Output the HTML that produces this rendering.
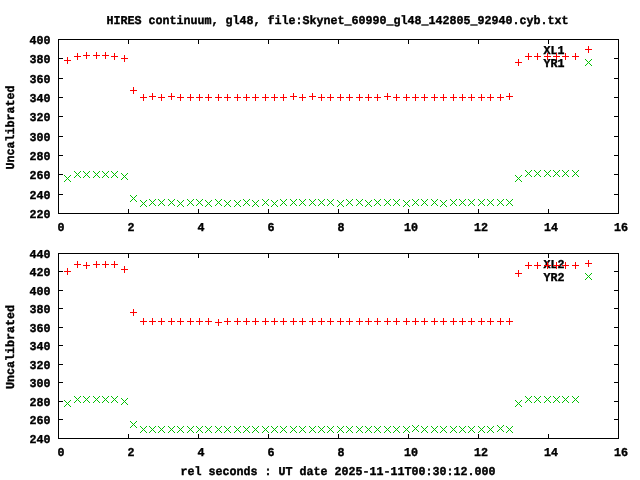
<!DOCTYPE html>
<html lang="en"><head><meta charset="utf-8"><title>HIRES continuum, gl48</title>
<style>
html,body{margin:0;padding:0;background:#fff;overflow:hidden}
svg{display:block;will-change:transform}
text{font-family:'Liberation Mono', 'DejaVu Sans Mono', monospace;font-size:12px;font-weight:bold;fill:#000;white-space:pre;stroke:#000;stroke-width:0.4px}
.e{text-anchor:end}.m{text-anchor:middle}
</style></head><body>
<svg width="640" height="480" viewBox="0 0 640 480" shape-rendering="crispEdges" text-rendering="geometricPrecision">
<rect x="0" y="0" width="640" height="480" fill="#ffffff"/>
<text class="m" x="337.5" y="24" textLength="462" lengthAdjust="spacingAndGlyphs">HIRES continuum, gl48, file:Skynet_60990_gl48_142805_92940.cyb.txt</text>
<text class="e" x="50.5" y="44" textLength="21" lengthAdjust="spacingAndGlyphs">400</text>
<text class="e" x="50.5" y="63" textLength="21" lengthAdjust="spacingAndGlyphs">380</text>
<text class="e" x="50.5" y="83" textLength="21" lengthAdjust="spacingAndGlyphs">360</text>
<text class="e" x="50.5" y="102" textLength="21" lengthAdjust="spacingAndGlyphs">340</text>
<text class="e" x="50.5" y="121" textLength="21" lengthAdjust="spacingAndGlyphs">320</text>
<text class="e" x="50.5" y="141" textLength="21" lengthAdjust="spacingAndGlyphs">300</text>
<text class="e" x="50.5" y="160" textLength="21" lengthAdjust="spacingAndGlyphs">280</text>
<text class="e" x="50.5" y="179" textLength="21" lengthAdjust="spacingAndGlyphs">260</text>
<text class="e" x="50.5" y="199" textLength="21" lengthAdjust="spacingAndGlyphs">240</text>
<text class="e" x="50.5" y="218" textLength="21" lengthAdjust="spacingAndGlyphs">220</text>
<text class="m" x="61" y="231" textLength="7" lengthAdjust="spacingAndGlyphs">0</text>
<text class="m" x="131" y="231" textLength="7" lengthAdjust="spacingAndGlyphs">2</text>
<text class="m" x="201" y="231" textLength="7" lengthAdjust="spacingAndGlyphs">4</text>
<text class="m" x="271" y="231" textLength="7" lengthAdjust="spacingAndGlyphs">6</text>
<text class="m" x="341" y="231" textLength="7" lengthAdjust="spacingAndGlyphs">8</text>
<text class="m" x="411" y="231" textLength="14" lengthAdjust="spacingAndGlyphs">10</text>
<text class="m" x="481" y="231" textLength="14" lengthAdjust="spacingAndGlyphs">12</text>
<text class="m" x="551" y="231" textLength="14" lengthAdjust="spacingAndGlyphs">14</text>
<text class="m" x="621" y="231" textLength="14" lengthAdjust="spacingAndGlyphs">16</text>
<path d="M58 39h561v1h-561zM58 213h561v1h-561zM58 39h1v175h-1zM618 39h1v175h-1zM58 39h5v1h-5zM614 39h5v1h-5zM58 58h5v1h-5zM614 58h5v1h-5zM58 78h5v1h-5zM614 78h5v1h-5zM58 97h5v1h-5zM614 97h5v1h-5zM58 116h5v1h-5zM614 116h5v1h-5zM58 136h5v1h-5zM614 136h5v1h-5zM58 155h5v1h-5zM614 155h5v1h-5zM58 174h5v1h-5zM614 174h5v1h-5zM58 194h5v1h-5zM614 194h5v1h-5zM58 213h5v1h-5zM614 213h5v1h-5zM58 209h1v5h-1zM58 39h1v5h-1zM128 209h1v5h-1zM128 39h1v5h-1zM198 209h1v5h-1zM198 39h1v5h-1zM268 209h1v5h-1zM268 39h1v5h-1zM338 209h1v5h-1zM338 39h1v5h-1zM408 209h1v5h-1zM408 39h1v5h-1zM478 209h1v5h-1zM478 39h1v5h-1zM548 209h1v5h-1zM548 39h1v5h-1zM618 209h1v5h-1zM618 39h1v5h-1z" fill="#000"/>
<text class="m" transform="translate(14 127.5) rotate(-90)" textLength="84" lengthAdjust="spacingAndGlyphs">Uncalibrated</text>
<text class="e" x="564.5" y="54" textLength="21" lengthAdjust="spacingAndGlyphs">XL1</text>
<path d="M64 60h7v1h-7zM67 57h1v7h-1zM74 56h7v1h-7zM77 53h1v7h-1zM83 55h7v1h-7zM86 52h1v7h-1zM93 55h7v1h-7zM96 52h1v7h-1zM102 55h7v1h-7zM105 52h1v7h-1zM111 56h7v1h-7zM114 53h1v7h-1zM121 58h7v1h-7zM124 55h1v7h-1zM130 90h7v1h-7zM133 87h1v7h-1zM140 97h7v1h-7zM143 94h1v7h-1zM149 96h7v1h-7zM152 93h1v7h-1zM158 97h7v1h-7zM161 94h1v7h-1zM168 96h7v1h-7zM171 93h1v7h-1zM177 97h7v1h-7zM180 94h1v7h-1zM187 97h7v1h-7zM190 94h1v7h-1zM196 97h7v1h-7zM199 94h1v7h-1zM205 97h7v1h-7zM208 94h1v7h-1zM215 97h7v1h-7zM218 94h1v7h-1zM224 97h7v1h-7zM227 94h1v7h-1zM234 97h7v1h-7zM237 94h1v7h-1zM243 97h7v1h-7zM246 94h1v7h-1zM252 97h7v1h-7zM255 94h1v7h-1zM262 97h7v1h-7zM265 94h1v7h-1zM271 97h7v1h-7zM274 94h1v7h-1zM280 97h7v1h-7zM283 94h1v7h-1zM290 96h7v1h-7zM293 93h1v7h-1zM299 97h7v1h-7zM302 94h1v7h-1zM309 96h7v1h-7zM312 93h1v7h-1zM318 97h7v1h-7zM321 94h1v7h-1zM327 97h7v1h-7zM330 94h1v7h-1zM337 97h7v1h-7zM340 94h1v7h-1zM346 97h7v1h-7zM349 94h1v7h-1zM356 97h7v1h-7zM359 94h1v7h-1zM365 97h7v1h-7zM368 94h1v7h-1zM374 97h7v1h-7zM377 94h1v7h-1zM384 96h7v1h-7zM387 93h1v7h-1zM393 97h7v1h-7zM396 94h1v7h-1zM403 97h7v1h-7zM406 94h1v7h-1zM412 97h7v1h-7zM415 94h1v7h-1zM421 97h7v1h-7zM424 94h1v7h-1zM431 97h7v1h-7zM434 94h1v7h-1zM440 97h7v1h-7zM443 94h1v7h-1zM450 97h7v1h-7zM453 94h1v7h-1zM459 97h7v1h-7zM462 94h1v7h-1zM468 97h7v1h-7zM471 94h1v7h-1zM478 97h7v1h-7zM481 94h1v7h-1zM487 97h7v1h-7zM490 94h1v7h-1zM497 97h7v1h-7zM500 94h1v7h-1zM506 96h7v1h-7zM509 93h1v7h-1zM515 62h7v1h-7zM518 59h1v7h-1zM525 56h7v1h-7zM528 53h1v7h-1zM534 56h7v1h-7zM537 53h1v7h-1zM544 56h7v1h-7zM547 53h1v7h-1zM553 56h7v1h-7zM556 53h1v7h-1zM562 56h7v1h-7zM565 53h1v7h-1zM572 56h7v1h-7zM575 53h1v7h-1zM585 49h7v1h-7zM588 46h1v7h-1z" fill="#ff0000"/>
<text class="e" x="564.5" y="67" textLength="21" lengthAdjust="spacingAndGlyphs">YR1</text>
<path d="M64 175h1v1h-1zM64 181h1v1h-1zM65 176h1v1h-1zM65 180h1v1h-1zM66 177h1v1h-1zM66 179h1v1h-1zM67 178h1v1h-1zM68 179h1v1h-1zM68 177h1v1h-1zM69 180h1v1h-1zM69 176h1v1h-1zM70 181h1v1h-1zM70 175h1v1h-1zM74 171h1v1h-1zM74 177h1v1h-1zM75 172h1v1h-1zM75 176h1v1h-1zM76 173h1v1h-1zM76 175h1v1h-1zM77 174h1v1h-1zM78 175h1v1h-1zM78 173h1v1h-1zM79 176h1v1h-1zM79 172h1v1h-1zM80 177h1v1h-1zM80 171h1v1h-1zM83 171h1v1h-1zM83 177h1v1h-1zM84 172h1v1h-1zM84 176h1v1h-1zM85 173h1v1h-1zM85 175h1v1h-1zM86 174h1v1h-1zM87 175h1v1h-1zM87 173h1v1h-1zM88 176h1v1h-1zM88 172h1v1h-1zM89 177h1v1h-1zM89 171h1v1h-1zM93 171h1v1h-1zM93 177h1v1h-1zM94 172h1v1h-1zM94 176h1v1h-1zM95 173h1v1h-1zM95 175h1v1h-1zM96 174h1v1h-1zM97 175h1v1h-1zM97 173h1v1h-1zM98 176h1v1h-1zM98 172h1v1h-1zM99 177h1v1h-1zM99 171h1v1h-1zM102 171h1v1h-1zM102 177h1v1h-1zM103 172h1v1h-1zM103 176h1v1h-1zM104 173h1v1h-1zM104 175h1v1h-1zM105 174h1v1h-1zM106 175h1v1h-1zM106 173h1v1h-1zM107 176h1v1h-1zM107 172h1v1h-1zM108 177h1v1h-1zM108 171h1v1h-1zM111 171h1v1h-1zM111 177h1v1h-1zM112 172h1v1h-1zM112 176h1v1h-1zM113 173h1v1h-1zM113 175h1v1h-1zM114 174h1v1h-1zM115 175h1v1h-1zM115 173h1v1h-1zM116 176h1v1h-1zM116 172h1v1h-1zM117 177h1v1h-1zM117 171h1v1h-1zM121 173h1v1h-1zM121 179h1v1h-1zM122 174h1v1h-1zM122 178h1v1h-1zM123 175h1v1h-1zM123 177h1v1h-1zM124 176h1v1h-1zM125 177h1v1h-1zM125 175h1v1h-1zM126 178h1v1h-1zM126 174h1v1h-1zM127 179h1v1h-1zM127 173h1v1h-1zM130 195h1v1h-1zM130 201h1v1h-1zM131 196h1v1h-1zM131 200h1v1h-1zM132 197h1v1h-1zM132 199h1v1h-1zM133 198h1v1h-1zM134 199h1v1h-1zM134 197h1v1h-1zM135 200h1v1h-1zM135 196h1v1h-1zM136 201h1v1h-1zM136 195h1v1h-1zM140 200h1v1h-1zM140 206h1v1h-1zM141 201h1v1h-1zM141 205h1v1h-1zM142 202h1v1h-1zM142 204h1v1h-1zM143 203h1v1h-1zM144 204h1v1h-1zM144 202h1v1h-1zM145 205h1v1h-1zM145 201h1v1h-1zM146 206h1v1h-1zM146 200h1v1h-1zM149 199h1v1h-1zM149 205h1v1h-1zM150 200h1v1h-1zM150 204h1v1h-1zM151 201h1v1h-1zM151 203h1v1h-1zM152 202h1v1h-1zM153 203h1v1h-1zM153 201h1v1h-1zM154 204h1v1h-1zM154 200h1v1h-1zM155 205h1v1h-1zM155 199h1v1h-1zM158 199h1v1h-1zM158 205h1v1h-1zM159 200h1v1h-1zM159 204h1v1h-1zM160 201h1v1h-1zM160 203h1v1h-1zM161 202h1v1h-1zM162 203h1v1h-1zM162 201h1v1h-1zM163 204h1v1h-1zM163 200h1v1h-1zM164 205h1v1h-1zM164 199h1v1h-1zM168 199h1v1h-1zM168 205h1v1h-1zM169 200h1v1h-1zM169 204h1v1h-1zM170 201h1v1h-1zM170 203h1v1h-1zM171 202h1v1h-1zM172 203h1v1h-1zM172 201h1v1h-1zM173 204h1v1h-1zM173 200h1v1h-1zM174 205h1v1h-1zM174 199h1v1h-1zM177 200h1v1h-1zM177 206h1v1h-1zM178 201h1v1h-1zM178 205h1v1h-1zM179 202h1v1h-1zM179 204h1v1h-1zM180 203h1v1h-1zM181 204h1v1h-1zM181 202h1v1h-1zM182 205h1v1h-1zM182 201h1v1h-1zM183 206h1v1h-1zM183 200h1v1h-1zM187 199h1v1h-1zM187 205h1v1h-1zM188 200h1v1h-1zM188 204h1v1h-1zM189 201h1v1h-1zM189 203h1v1h-1zM190 202h1v1h-1zM191 203h1v1h-1zM191 201h1v1h-1zM192 204h1v1h-1zM192 200h1v1h-1zM193 205h1v1h-1zM193 199h1v1h-1zM196 199h1v1h-1zM196 205h1v1h-1zM197 200h1v1h-1zM197 204h1v1h-1zM198 201h1v1h-1zM198 203h1v1h-1zM199 202h1v1h-1zM200 203h1v1h-1zM200 201h1v1h-1zM201 204h1v1h-1zM201 200h1v1h-1zM202 205h1v1h-1zM202 199h1v1h-1zM205 200h1v1h-1zM205 206h1v1h-1zM206 201h1v1h-1zM206 205h1v1h-1zM207 202h1v1h-1zM207 204h1v1h-1zM208 203h1v1h-1zM209 204h1v1h-1zM209 202h1v1h-1zM210 205h1v1h-1zM210 201h1v1h-1zM211 206h1v1h-1zM211 200h1v1h-1zM215 199h1v1h-1zM215 205h1v1h-1zM216 200h1v1h-1zM216 204h1v1h-1zM217 201h1v1h-1zM217 203h1v1h-1zM218 202h1v1h-1zM219 203h1v1h-1zM219 201h1v1h-1zM220 204h1v1h-1zM220 200h1v1h-1zM221 205h1v1h-1zM221 199h1v1h-1zM224 200h1v1h-1zM224 206h1v1h-1zM225 201h1v1h-1zM225 205h1v1h-1zM226 202h1v1h-1zM226 204h1v1h-1zM227 203h1v1h-1zM228 204h1v1h-1zM228 202h1v1h-1zM229 205h1v1h-1zM229 201h1v1h-1zM230 206h1v1h-1zM230 200h1v1h-1zM234 200h1v1h-1zM234 206h1v1h-1zM235 201h1v1h-1zM235 205h1v1h-1zM236 202h1v1h-1zM236 204h1v1h-1zM237 203h1v1h-1zM238 204h1v1h-1zM238 202h1v1h-1zM239 205h1v1h-1zM239 201h1v1h-1zM240 206h1v1h-1zM240 200h1v1h-1zM243 199h1v1h-1zM243 205h1v1h-1zM244 200h1v1h-1zM244 204h1v1h-1zM245 201h1v1h-1zM245 203h1v1h-1zM246 202h1v1h-1zM247 203h1v1h-1zM247 201h1v1h-1zM248 204h1v1h-1zM248 200h1v1h-1zM249 205h1v1h-1zM249 199h1v1h-1zM252 200h1v1h-1zM252 206h1v1h-1zM253 201h1v1h-1zM253 205h1v1h-1zM254 202h1v1h-1zM254 204h1v1h-1zM255 203h1v1h-1zM256 204h1v1h-1zM256 202h1v1h-1zM257 205h1v1h-1zM257 201h1v1h-1zM258 206h1v1h-1zM258 200h1v1h-1zM262 199h1v1h-1zM262 205h1v1h-1zM263 200h1v1h-1zM263 204h1v1h-1zM264 201h1v1h-1zM264 203h1v1h-1zM265 202h1v1h-1zM266 203h1v1h-1zM266 201h1v1h-1zM267 204h1v1h-1zM267 200h1v1h-1zM268 205h1v1h-1zM268 199h1v1h-1zM271 200h1v1h-1zM271 206h1v1h-1zM272 201h1v1h-1zM272 205h1v1h-1zM273 202h1v1h-1zM273 204h1v1h-1zM274 203h1v1h-1zM275 204h1v1h-1zM275 202h1v1h-1zM276 205h1v1h-1zM276 201h1v1h-1zM277 206h1v1h-1zM277 200h1v1h-1zM280 199h1v1h-1zM280 205h1v1h-1zM281 200h1v1h-1zM281 204h1v1h-1zM282 201h1v1h-1zM282 203h1v1h-1zM283 202h1v1h-1zM284 203h1v1h-1zM284 201h1v1h-1zM285 204h1v1h-1zM285 200h1v1h-1zM286 205h1v1h-1zM286 199h1v1h-1zM290 199h1v1h-1zM290 205h1v1h-1zM291 200h1v1h-1zM291 204h1v1h-1zM292 201h1v1h-1zM292 203h1v1h-1zM293 202h1v1h-1zM294 203h1v1h-1zM294 201h1v1h-1zM295 204h1v1h-1zM295 200h1v1h-1zM296 205h1v1h-1zM296 199h1v1h-1zM299 199h1v1h-1zM299 205h1v1h-1zM300 200h1v1h-1zM300 204h1v1h-1zM301 201h1v1h-1zM301 203h1v1h-1zM302 202h1v1h-1zM303 203h1v1h-1zM303 201h1v1h-1zM304 204h1v1h-1zM304 200h1v1h-1zM305 205h1v1h-1zM305 199h1v1h-1zM309 199h1v1h-1zM309 205h1v1h-1zM310 200h1v1h-1zM310 204h1v1h-1zM311 201h1v1h-1zM311 203h1v1h-1zM312 202h1v1h-1zM313 203h1v1h-1zM313 201h1v1h-1zM314 204h1v1h-1zM314 200h1v1h-1zM315 205h1v1h-1zM315 199h1v1h-1zM318 199h1v1h-1zM318 205h1v1h-1zM319 200h1v1h-1zM319 204h1v1h-1zM320 201h1v1h-1zM320 203h1v1h-1zM321 202h1v1h-1zM322 203h1v1h-1zM322 201h1v1h-1zM323 204h1v1h-1zM323 200h1v1h-1zM324 205h1v1h-1zM324 199h1v1h-1zM327 199h1v1h-1zM327 205h1v1h-1zM328 200h1v1h-1zM328 204h1v1h-1zM329 201h1v1h-1zM329 203h1v1h-1zM330 202h1v1h-1zM331 203h1v1h-1zM331 201h1v1h-1zM332 204h1v1h-1zM332 200h1v1h-1zM333 205h1v1h-1zM333 199h1v1h-1zM337 200h1v1h-1zM337 206h1v1h-1zM338 201h1v1h-1zM338 205h1v1h-1zM339 202h1v1h-1zM339 204h1v1h-1zM340 203h1v1h-1zM341 204h1v1h-1zM341 202h1v1h-1zM342 205h1v1h-1zM342 201h1v1h-1zM343 206h1v1h-1zM343 200h1v1h-1zM346 199h1v1h-1zM346 205h1v1h-1zM347 200h1v1h-1zM347 204h1v1h-1zM348 201h1v1h-1zM348 203h1v1h-1zM349 202h1v1h-1zM350 203h1v1h-1zM350 201h1v1h-1zM351 204h1v1h-1zM351 200h1v1h-1zM352 205h1v1h-1zM352 199h1v1h-1zM356 199h1v1h-1zM356 205h1v1h-1zM357 200h1v1h-1zM357 204h1v1h-1zM358 201h1v1h-1zM358 203h1v1h-1zM359 202h1v1h-1zM360 203h1v1h-1zM360 201h1v1h-1zM361 204h1v1h-1zM361 200h1v1h-1zM362 205h1v1h-1zM362 199h1v1h-1zM365 200h1v1h-1zM365 206h1v1h-1zM366 201h1v1h-1zM366 205h1v1h-1zM367 202h1v1h-1zM367 204h1v1h-1zM368 203h1v1h-1zM369 204h1v1h-1zM369 202h1v1h-1zM370 205h1v1h-1zM370 201h1v1h-1zM371 206h1v1h-1zM371 200h1v1h-1zM374 199h1v1h-1zM374 205h1v1h-1zM375 200h1v1h-1zM375 204h1v1h-1zM376 201h1v1h-1zM376 203h1v1h-1zM377 202h1v1h-1zM378 203h1v1h-1zM378 201h1v1h-1zM379 204h1v1h-1zM379 200h1v1h-1zM380 205h1v1h-1zM380 199h1v1h-1zM384 199h1v1h-1zM384 205h1v1h-1zM385 200h1v1h-1zM385 204h1v1h-1zM386 201h1v1h-1zM386 203h1v1h-1zM387 202h1v1h-1zM388 203h1v1h-1zM388 201h1v1h-1zM389 204h1v1h-1zM389 200h1v1h-1zM390 205h1v1h-1zM390 199h1v1h-1zM393 199h1v1h-1zM393 205h1v1h-1zM394 200h1v1h-1zM394 204h1v1h-1zM395 201h1v1h-1zM395 203h1v1h-1zM396 202h1v1h-1zM397 203h1v1h-1zM397 201h1v1h-1zM398 204h1v1h-1zM398 200h1v1h-1zM399 205h1v1h-1zM399 199h1v1h-1zM403 200h1v1h-1zM403 206h1v1h-1zM404 201h1v1h-1zM404 205h1v1h-1zM405 202h1v1h-1zM405 204h1v1h-1zM406 203h1v1h-1zM407 204h1v1h-1zM407 202h1v1h-1zM408 205h1v1h-1zM408 201h1v1h-1zM409 206h1v1h-1zM409 200h1v1h-1zM412 199h1v1h-1zM412 205h1v1h-1zM413 200h1v1h-1zM413 204h1v1h-1zM414 201h1v1h-1zM414 203h1v1h-1zM415 202h1v1h-1zM416 203h1v1h-1zM416 201h1v1h-1zM417 204h1v1h-1zM417 200h1v1h-1zM418 205h1v1h-1zM418 199h1v1h-1zM421 199h1v1h-1zM421 205h1v1h-1zM422 200h1v1h-1zM422 204h1v1h-1zM423 201h1v1h-1zM423 203h1v1h-1zM424 202h1v1h-1zM425 203h1v1h-1zM425 201h1v1h-1zM426 204h1v1h-1zM426 200h1v1h-1zM427 205h1v1h-1zM427 199h1v1h-1zM431 199h1v1h-1zM431 205h1v1h-1zM432 200h1v1h-1zM432 204h1v1h-1zM433 201h1v1h-1zM433 203h1v1h-1zM434 202h1v1h-1zM435 203h1v1h-1zM435 201h1v1h-1zM436 204h1v1h-1zM436 200h1v1h-1zM437 205h1v1h-1zM437 199h1v1h-1zM440 200h1v1h-1zM440 206h1v1h-1zM441 201h1v1h-1zM441 205h1v1h-1zM442 202h1v1h-1zM442 204h1v1h-1zM443 203h1v1h-1zM444 204h1v1h-1zM444 202h1v1h-1zM445 205h1v1h-1zM445 201h1v1h-1zM446 206h1v1h-1zM446 200h1v1h-1zM450 199h1v1h-1zM450 205h1v1h-1zM451 200h1v1h-1zM451 204h1v1h-1zM452 201h1v1h-1zM452 203h1v1h-1zM453 202h1v1h-1zM454 203h1v1h-1zM454 201h1v1h-1zM455 204h1v1h-1zM455 200h1v1h-1zM456 205h1v1h-1zM456 199h1v1h-1zM459 199h1v1h-1zM459 205h1v1h-1zM460 200h1v1h-1zM460 204h1v1h-1zM461 201h1v1h-1zM461 203h1v1h-1zM462 202h1v1h-1zM463 203h1v1h-1zM463 201h1v1h-1zM464 204h1v1h-1zM464 200h1v1h-1zM465 205h1v1h-1zM465 199h1v1h-1zM468 199h1v1h-1zM468 205h1v1h-1zM469 200h1v1h-1zM469 204h1v1h-1zM470 201h1v1h-1zM470 203h1v1h-1zM471 202h1v1h-1zM472 203h1v1h-1zM472 201h1v1h-1zM473 204h1v1h-1zM473 200h1v1h-1zM474 205h1v1h-1zM474 199h1v1h-1zM478 199h1v1h-1zM478 205h1v1h-1zM479 200h1v1h-1zM479 204h1v1h-1zM480 201h1v1h-1zM480 203h1v1h-1zM481 202h1v1h-1zM482 203h1v1h-1zM482 201h1v1h-1zM483 204h1v1h-1zM483 200h1v1h-1zM484 205h1v1h-1zM484 199h1v1h-1zM487 199h1v1h-1zM487 205h1v1h-1zM488 200h1v1h-1zM488 204h1v1h-1zM489 201h1v1h-1zM489 203h1v1h-1zM490 202h1v1h-1zM491 203h1v1h-1zM491 201h1v1h-1zM492 204h1v1h-1zM492 200h1v1h-1zM493 205h1v1h-1zM493 199h1v1h-1zM497 199h1v1h-1zM497 205h1v1h-1zM498 200h1v1h-1zM498 204h1v1h-1zM499 201h1v1h-1zM499 203h1v1h-1zM500 202h1v1h-1zM501 203h1v1h-1zM501 201h1v1h-1zM502 204h1v1h-1zM502 200h1v1h-1zM503 205h1v1h-1zM503 199h1v1h-1zM506 199h1v1h-1zM506 205h1v1h-1zM507 200h1v1h-1zM507 204h1v1h-1zM508 201h1v1h-1zM508 203h1v1h-1zM509 202h1v1h-1zM510 203h1v1h-1zM510 201h1v1h-1zM511 204h1v1h-1zM511 200h1v1h-1zM512 205h1v1h-1zM512 199h1v1h-1zM515 175h1v1h-1zM515 181h1v1h-1zM516 176h1v1h-1zM516 180h1v1h-1zM517 177h1v1h-1zM517 179h1v1h-1zM518 178h1v1h-1zM519 179h1v1h-1zM519 177h1v1h-1zM520 180h1v1h-1zM520 176h1v1h-1zM521 181h1v1h-1zM521 175h1v1h-1zM525 170h1v1h-1zM525 176h1v1h-1zM526 171h1v1h-1zM526 175h1v1h-1zM527 172h1v1h-1zM527 174h1v1h-1zM528 173h1v1h-1zM529 174h1v1h-1zM529 172h1v1h-1zM530 175h1v1h-1zM530 171h1v1h-1zM531 176h1v1h-1zM531 170h1v1h-1zM534 170h1v1h-1zM534 176h1v1h-1zM535 171h1v1h-1zM535 175h1v1h-1zM536 172h1v1h-1zM536 174h1v1h-1zM537 173h1v1h-1zM538 174h1v1h-1zM538 172h1v1h-1zM539 175h1v1h-1zM539 171h1v1h-1zM540 176h1v1h-1zM540 170h1v1h-1zM544 170h1v1h-1zM544 176h1v1h-1zM545 171h1v1h-1zM545 175h1v1h-1zM546 172h1v1h-1zM546 174h1v1h-1zM547 173h1v1h-1zM548 174h1v1h-1zM548 172h1v1h-1zM549 175h1v1h-1zM549 171h1v1h-1zM550 176h1v1h-1zM550 170h1v1h-1zM553 170h1v1h-1zM553 176h1v1h-1zM554 171h1v1h-1zM554 175h1v1h-1zM555 172h1v1h-1zM555 174h1v1h-1zM556 173h1v1h-1zM557 174h1v1h-1zM557 172h1v1h-1zM558 175h1v1h-1zM558 171h1v1h-1zM559 176h1v1h-1zM559 170h1v1h-1zM562 170h1v1h-1zM562 176h1v1h-1zM563 171h1v1h-1zM563 175h1v1h-1zM564 172h1v1h-1zM564 174h1v1h-1zM565 173h1v1h-1zM566 174h1v1h-1zM566 172h1v1h-1zM567 175h1v1h-1zM567 171h1v1h-1zM568 176h1v1h-1zM568 170h1v1h-1zM572 170h1v1h-1zM572 176h1v1h-1zM573 171h1v1h-1zM573 175h1v1h-1zM574 172h1v1h-1zM574 174h1v1h-1zM575 173h1v1h-1zM576 174h1v1h-1zM576 172h1v1h-1zM577 175h1v1h-1zM577 171h1v1h-1zM578 176h1v1h-1zM578 170h1v1h-1zM585 59h1v1h-1zM585 65h1v1h-1zM586 60h1v1h-1zM586 64h1v1h-1zM587 61h1v1h-1zM587 63h1v1h-1zM588 62h1v1h-1zM589 63h1v1h-1zM589 61h1v1h-1zM590 64h1v1h-1zM590 60h1v1h-1zM591 65h1v1h-1zM591 59h1v1h-1z" fill="#00c000"/>
<text class="e" x="50.5" y="258" textLength="21" lengthAdjust="spacingAndGlyphs">440</text>
<text class="e" x="50.5" y="276" textLength="21" lengthAdjust="spacingAndGlyphs">420</text>
<text class="e" x="50.5" y="295" textLength="21" lengthAdjust="spacingAndGlyphs">400</text>
<text class="e" x="50.5" y="313" textLength="21" lengthAdjust="spacingAndGlyphs">380</text>
<text class="e" x="50.5" y="332" textLength="21" lengthAdjust="spacingAndGlyphs">360</text>
<text class="e" x="50.5" y="350" textLength="21" lengthAdjust="spacingAndGlyphs">340</text>
<text class="e" x="50.5" y="369" textLength="21" lengthAdjust="spacingAndGlyphs">320</text>
<text class="e" x="50.5" y="387" textLength="21" lengthAdjust="spacingAndGlyphs">300</text>
<text class="e" x="50.5" y="406" textLength="21" lengthAdjust="spacingAndGlyphs">280</text>
<text class="e" x="50.5" y="424" textLength="21" lengthAdjust="spacingAndGlyphs">260</text>
<text class="e" x="50.5" y="443" textLength="21" lengthAdjust="spacingAndGlyphs">240</text>
<text class="m" x="61" y="456" textLength="7" lengthAdjust="spacingAndGlyphs">0</text>
<text class="m" x="131" y="456" textLength="7" lengthAdjust="spacingAndGlyphs">2</text>
<text class="m" x="201" y="456" textLength="7" lengthAdjust="spacingAndGlyphs">4</text>
<text class="m" x="271" y="456" textLength="7" lengthAdjust="spacingAndGlyphs">6</text>
<text class="m" x="341" y="456" textLength="7" lengthAdjust="spacingAndGlyphs">8</text>
<text class="m" x="411" y="456" textLength="14" lengthAdjust="spacingAndGlyphs">10</text>
<text class="m" x="481" y="456" textLength="14" lengthAdjust="spacingAndGlyphs">12</text>
<text class="m" x="551" y="456" textLength="14" lengthAdjust="spacingAndGlyphs">14</text>
<text class="m" x="621" y="456" textLength="14" lengthAdjust="spacingAndGlyphs">16</text>
<path d="M58 253h561v1h-561zM58 438h561v1h-561zM58 253h1v186h-1zM618 253h1v186h-1zM58 253h5v1h-5zM614 253h5v1h-5zM58 271h5v1h-5zM614 271h5v1h-5zM58 290h5v1h-5zM614 290h5v1h-5zM58 308h5v1h-5zM614 308h5v1h-5zM58 327h5v1h-5zM614 327h5v1h-5zM58 345h5v1h-5zM614 345h5v1h-5zM58 364h5v1h-5zM614 364h5v1h-5zM58 382h5v1h-5zM614 382h5v1h-5zM58 401h5v1h-5zM614 401h5v1h-5zM58 419h5v1h-5zM614 419h5v1h-5zM58 438h5v1h-5zM614 438h5v1h-5zM58 434h1v5h-1zM58 253h1v5h-1zM128 434h1v5h-1zM128 253h1v5h-1zM198 434h1v5h-1zM198 253h1v5h-1zM268 434h1v5h-1zM268 253h1v5h-1zM338 434h1v5h-1zM338 253h1v5h-1zM408 434h1v5h-1zM408 253h1v5h-1zM478 434h1v5h-1zM478 253h1v5h-1zM548 434h1v5h-1zM548 253h1v5h-1zM618 434h1v5h-1zM618 253h1v5h-1z" fill="#000"/>
<text class="m" transform="translate(14 347) rotate(-90)" textLength="84" lengthAdjust="spacingAndGlyphs">Uncalibrated</text>
<text class="e" x="564.5" y="268" textLength="21" lengthAdjust="spacingAndGlyphs">XL2</text>
<path d="M64 271h7v1h-7zM67 268h1v7h-1zM74 264h7v1h-7zM77 261h1v7h-1zM83 265h7v1h-7zM86 262h1v7h-1zM93 264h7v1h-7zM96 261h1v7h-1zM102 264h7v1h-7zM105 261h1v7h-1zM111 264h7v1h-7zM114 261h1v7h-1zM121 269h7v1h-7zM124 266h1v7h-1zM130 312h7v1h-7zM133 309h1v7h-1zM140 321h7v1h-7zM143 318h1v7h-1zM149 321h7v1h-7zM152 318h1v7h-1zM158 321h7v1h-7zM161 318h1v7h-1zM168 321h7v1h-7zM171 318h1v7h-1zM177 321h7v1h-7zM180 318h1v7h-1zM187 321h7v1h-7zM190 318h1v7h-1zM196 321h7v1h-7zM199 318h1v7h-1zM205 321h7v1h-7zM208 318h1v7h-1zM215 322h7v1h-7zM218 319h1v7h-1zM224 321h7v1h-7zM227 318h1v7h-1zM234 321h7v1h-7zM237 318h1v7h-1zM243 321h7v1h-7zM246 318h1v7h-1zM252 321h7v1h-7zM255 318h1v7h-1zM262 321h7v1h-7zM265 318h1v7h-1zM271 321h7v1h-7zM274 318h1v7h-1zM280 321h7v1h-7zM283 318h1v7h-1zM290 321h7v1h-7zM293 318h1v7h-1zM299 321h7v1h-7zM302 318h1v7h-1zM309 321h7v1h-7zM312 318h1v7h-1zM318 321h7v1h-7zM321 318h1v7h-1zM327 321h7v1h-7zM330 318h1v7h-1zM337 321h7v1h-7zM340 318h1v7h-1zM346 321h7v1h-7zM349 318h1v7h-1zM356 321h7v1h-7zM359 318h1v7h-1zM365 321h7v1h-7zM368 318h1v7h-1zM374 321h7v1h-7zM377 318h1v7h-1zM384 321h7v1h-7zM387 318h1v7h-1zM393 321h7v1h-7zM396 318h1v7h-1zM403 321h7v1h-7zM406 318h1v7h-1zM412 321h7v1h-7zM415 318h1v7h-1zM421 321h7v1h-7zM424 318h1v7h-1zM431 321h7v1h-7zM434 318h1v7h-1zM440 321h7v1h-7zM443 318h1v7h-1zM450 321h7v1h-7zM453 318h1v7h-1zM459 321h7v1h-7zM462 318h1v7h-1zM468 321h7v1h-7zM471 318h1v7h-1zM478 321h7v1h-7zM481 318h1v7h-1zM487 321h7v1h-7zM490 318h1v7h-1zM497 321h7v1h-7zM500 318h1v7h-1zM506 321h7v1h-7zM509 318h1v7h-1zM515 273h7v1h-7zM518 270h1v7h-1zM525 265h7v1h-7zM528 262h1v7h-1zM534 265h7v1h-7zM537 262h1v7h-1zM544 265h7v1h-7zM547 262h1v7h-1zM553 265h7v1h-7zM556 262h1v7h-1zM562 265h7v1h-7zM565 262h1v7h-1zM572 265h7v1h-7zM575 262h1v7h-1zM585 263h7v1h-7zM588 260h1v7h-1z" fill="#ff0000"/>
<text class="e" x="564.5" y="281" textLength="21" lengthAdjust="spacingAndGlyphs">YR2</text>
<path d="M64 400h1v1h-1zM64 406h1v1h-1zM65 401h1v1h-1zM65 405h1v1h-1zM66 402h1v1h-1zM66 404h1v1h-1zM67 403h1v1h-1zM68 404h1v1h-1zM68 402h1v1h-1zM69 405h1v1h-1zM69 401h1v1h-1zM70 406h1v1h-1zM70 400h1v1h-1zM74 396h1v1h-1zM74 402h1v1h-1zM75 397h1v1h-1zM75 401h1v1h-1zM76 398h1v1h-1zM76 400h1v1h-1zM77 399h1v1h-1zM78 400h1v1h-1zM78 398h1v1h-1zM79 401h1v1h-1zM79 397h1v1h-1zM80 402h1v1h-1zM80 396h1v1h-1zM83 396h1v1h-1zM83 402h1v1h-1zM84 397h1v1h-1zM84 401h1v1h-1zM85 398h1v1h-1zM85 400h1v1h-1zM86 399h1v1h-1zM87 400h1v1h-1zM87 398h1v1h-1zM88 401h1v1h-1zM88 397h1v1h-1zM89 402h1v1h-1zM89 396h1v1h-1zM93 396h1v1h-1zM93 402h1v1h-1zM94 397h1v1h-1zM94 401h1v1h-1zM95 398h1v1h-1zM95 400h1v1h-1zM96 399h1v1h-1zM97 400h1v1h-1zM97 398h1v1h-1zM98 401h1v1h-1zM98 397h1v1h-1zM99 402h1v1h-1zM99 396h1v1h-1zM102 396h1v1h-1zM102 402h1v1h-1zM103 397h1v1h-1zM103 401h1v1h-1zM104 398h1v1h-1zM104 400h1v1h-1zM105 399h1v1h-1zM106 400h1v1h-1zM106 398h1v1h-1zM107 401h1v1h-1zM107 397h1v1h-1zM108 402h1v1h-1zM108 396h1v1h-1zM111 396h1v1h-1zM111 402h1v1h-1zM112 397h1v1h-1zM112 401h1v1h-1zM113 398h1v1h-1zM113 400h1v1h-1zM114 399h1v1h-1zM115 400h1v1h-1zM115 398h1v1h-1zM116 401h1v1h-1zM116 397h1v1h-1zM117 402h1v1h-1zM117 396h1v1h-1zM121 398h1v1h-1zM121 404h1v1h-1zM122 399h1v1h-1zM122 403h1v1h-1zM123 400h1v1h-1zM123 402h1v1h-1zM124 401h1v1h-1zM125 402h1v1h-1zM125 400h1v1h-1zM126 403h1v1h-1zM126 399h1v1h-1zM127 404h1v1h-1zM127 398h1v1h-1zM130 421h1v1h-1zM130 427h1v1h-1zM131 422h1v1h-1zM131 426h1v1h-1zM132 423h1v1h-1zM132 425h1v1h-1zM133 424h1v1h-1zM134 425h1v1h-1zM134 423h1v1h-1zM135 426h1v1h-1zM135 422h1v1h-1zM136 427h1v1h-1zM136 421h1v1h-1zM140 426h1v1h-1zM140 432h1v1h-1zM141 427h1v1h-1zM141 431h1v1h-1zM142 428h1v1h-1zM142 430h1v1h-1zM143 429h1v1h-1zM144 430h1v1h-1zM144 428h1v1h-1zM145 431h1v1h-1zM145 427h1v1h-1zM146 432h1v1h-1zM146 426h1v1h-1zM149 426h1v1h-1zM149 432h1v1h-1zM150 427h1v1h-1zM150 431h1v1h-1zM151 428h1v1h-1zM151 430h1v1h-1zM152 429h1v1h-1zM153 430h1v1h-1zM153 428h1v1h-1zM154 431h1v1h-1zM154 427h1v1h-1zM155 432h1v1h-1zM155 426h1v1h-1zM158 426h1v1h-1zM158 432h1v1h-1zM159 427h1v1h-1zM159 431h1v1h-1zM160 428h1v1h-1zM160 430h1v1h-1zM161 429h1v1h-1zM162 430h1v1h-1zM162 428h1v1h-1zM163 431h1v1h-1zM163 427h1v1h-1zM164 432h1v1h-1zM164 426h1v1h-1zM168 426h1v1h-1zM168 432h1v1h-1zM169 427h1v1h-1zM169 431h1v1h-1zM170 428h1v1h-1zM170 430h1v1h-1zM171 429h1v1h-1zM172 430h1v1h-1zM172 428h1v1h-1zM173 431h1v1h-1zM173 427h1v1h-1zM174 432h1v1h-1zM174 426h1v1h-1zM177 426h1v1h-1zM177 432h1v1h-1zM178 427h1v1h-1zM178 431h1v1h-1zM179 428h1v1h-1zM179 430h1v1h-1zM180 429h1v1h-1zM181 430h1v1h-1zM181 428h1v1h-1zM182 431h1v1h-1zM182 427h1v1h-1zM183 432h1v1h-1zM183 426h1v1h-1zM187 426h1v1h-1zM187 432h1v1h-1zM188 427h1v1h-1zM188 431h1v1h-1zM189 428h1v1h-1zM189 430h1v1h-1zM190 429h1v1h-1zM191 430h1v1h-1zM191 428h1v1h-1zM192 431h1v1h-1zM192 427h1v1h-1zM193 432h1v1h-1zM193 426h1v1h-1zM196 426h1v1h-1zM196 432h1v1h-1zM197 427h1v1h-1zM197 431h1v1h-1zM198 428h1v1h-1zM198 430h1v1h-1zM199 429h1v1h-1zM200 430h1v1h-1zM200 428h1v1h-1zM201 431h1v1h-1zM201 427h1v1h-1zM202 432h1v1h-1zM202 426h1v1h-1zM205 426h1v1h-1zM205 432h1v1h-1zM206 427h1v1h-1zM206 431h1v1h-1zM207 428h1v1h-1zM207 430h1v1h-1zM208 429h1v1h-1zM209 430h1v1h-1zM209 428h1v1h-1zM210 431h1v1h-1zM210 427h1v1h-1zM211 432h1v1h-1zM211 426h1v1h-1zM215 426h1v1h-1zM215 432h1v1h-1zM216 427h1v1h-1zM216 431h1v1h-1zM217 428h1v1h-1zM217 430h1v1h-1zM218 429h1v1h-1zM219 430h1v1h-1zM219 428h1v1h-1zM220 431h1v1h-1zM220 427h1v1h-1zM221 432h1v1h-1zM221 426h1v1h-1zM224 426h1v1h-1zM224 432h1v1h-1zM225 427h1v1h-1zM225 431h1v1h-1zM226 428h1v1h-1zM226 430h1v1h-1zM227 429h1v1h-1zM228 430h1v1h-1zM228 428h1v1h-1zM229 431h1v1h-1zM229 427h1v1h-1zM230 432h1v1h-1zM230 426h1v1h-1zM234 426h1v1h-1zM234 432h1v1h-1zM235 427h1v1h-1zM235 431h1v1h-1zM236 428h1v1h-1zM236 430h1v1h-1zM237 429h1v1h-1zM238 430h1v1h-1zM238 428h1v1h-1zM239 431h1v1h-1zM239 427h1v1h-1zM240 432h1v1h-1zM240 426h1v1h-1zM243 426h1v1h-1zM243 432h1v1h-1zM244 427h1v1h-1zM244 431h1v1h-1zM245 428h1v1h-1zM245 430h1v1h-1zM246 429h1v1h-1zM247 430h1v1h-1zM247 428h1v1h-1zM248 431h1v1h-1zM248 427h1v1h-1zM249 432h1v1h-1zM249 426h1v1h-1zM252 426h1v1h-1zM252 432h1v1h-1zM253 427h1v1h-1zM253 431h1v1h-1zM254 428h1v1h-1zM254 430h1v1h-1zM255 429h1v1h-1zM256 430h1v1h-1zM256 428h1v1h-1zM257 431h1v1h-1zM257 427h1v1h-1zM258 432h1v1h-1zM258 426h1v1h-1zM262 426h1v1h-1zM262 432h1v1h-1zM263 427h1v1h-1zM263 431h1v1h-1zM264 428h1v1h-1zM264 430h1v1h-1zM265 429h1v1h-1zM266 430h1v1h-1zM266 428h1v1h-1zM267 431h1v1h-1zM267 427h1v1h-1zM268 432h1v1h-1zM268 426h1v1h-1zM271 426h1v1h-1zM271 432h1v1h-1zM272 427h1v1h-1zM272 431h1v1h-1zM273 428h1v1h-1zM273 430h1v1h-1zM274 429h1v1h-1zM275 430h1v1h-1zM275 428h1v1h-1zM276 431h1v1h-1zM276 427h1v1h-1zM277 432h1v1h-1zM277 426h1v1h-1zM280 426h1v1h-1zM280 432h1v1h-1zM281 427h1v1h-1zM281 431h1v1h-1zM282 428h1v1h-1zM282 430h1v1h-1zM283 429h1v1h-1zM284 430h1v1h-1zM284 428h1v1h-1zM285 431h1v1h-1zM285 427h1v1h-1zM286 432h1v1h-1zM286 426h1v1h-1zM290 426h1v1h-1zM290 432h1v1h-1zM291 427h1v1h-1zM291 431h1v1h-1zM292 428h1v1h-1zM292 430h1v1h-1zM293 429h1v1h-1zM294 430h1v1h-1zM294 428h1v1h-1zM295 431h1v1h-1zM295 427h1v1h-1zM296 432h1v1h-1zM296 426h1v1h-1zM299 426h1v1h-1zM299 432h1v1h-1zM300 427h1v1h-1zM300 431h1v1h-1zM301 428h1v1h-1zM301 430h1v1h-1zM302 429h1v1h-1zM303 430h1v1h-1zM303 428h1v1h-1zM304 431h1v1h-1zM304 427h1v1h-1zM305 432h1v1h-1zM305 426h1v1h-1zM309 426h1v1h-1zM309 432h1v1h-1zM310 427h1v1h-1zM310 431h1v1h-1zM311 428h1v1h-1zM311 430h1v1h-1zM312 429h1v1h-1zM313 430h1v1h-1zM313 428h1v1h-1zM314 431h1v1h-1zM314 427h1v1h-1zM315 432h1v1h-1zM315 426h1v1h-1zM318 426h1v1h-1zM318 432h1v1h-1zM319 427h1v1h-1zM319 431h1v1h-1zM320 428h1v1h-1zM320 430h1v1h-1zM321 429h1v1h-1zM322 430h1v1h-1zM322 428h1v1h-1zM323 431h1v1h-1zM323 427h1v1h-1zM324 432h1v1h-1zM324 426h1v1h-1zM327 426h1v1h-1zM327 432h1v1h-1zM328 427h1v1h-1zM328 431h1v1h-1zM329 428h1v1h-1zM329 430h1v1h-1zM330 429h1v1h-1zM331 430h1v1h-1zM331 428h1v1h-1zM332 431h1v1h-1zM332 427h1v1h-1zM333 432h1v1h-1zM333 426h1v1h-1zM337 426h1v1h-1zM337 432h1v1h-1zM338 427h1v1h-1zM338 431h1v1h-1zM339 428h1v1h-1zM339 430h1v1h-1zM340 429h1v1h-1zM341 430h1v1h-1zM341 428h1v1h-1zM342 431h1v1h-1zM342 427h1v1h-1zM343 432h1v1h-1zM343 426h1v1h-1zM346 426h1v1h-1zM346 432h1v1h-1zM347 427h1v1h-1zM347 431h1v1h-1zM348 428h1v1h-1zM348 430h1v1h-1zM349 429h1v1h-1zM350 430h1v1h-1zM350 428h1v1h-1zM351 431h1v1h-1zM351 427h1v1h-1zM352 432h1v1h-1zM352 426h1v1h-1zM356 426h1v1h-1zM356 432h1v1h-1zM357 427h1v1h-1zM357 431h1v1h-1zM358 428h1v1h-1zM358 430h1v1h-1zM359 429h1v1h-1zM360 430h1v1h-1zM360 428h1v1h-1zM361 431h1v1h-1zM361 427h1v1h-1zM362 432h1v1h-1zM362 426h1v1h-1zM365 426h1v1h-1zM365 432h1v1h-1zM366 427h1v1h-1zM366 431h1v1h-1zM367 428h1v1h-1zM367 430h1v1h-1zM368 429h1v1h-1zM369 430h1v1h-1zM369 428h1v1h-1zM370 431h1v1h-1zM370 427h1v1h-1zM371 432h1v1h-1zM371 426h1v1h-1zM374 426h1v1h-1zM374 432h1v1h-1zM375 427h1v1h-1zM375 431h1v1h-1zM376 428h1v1h-1zM376 430h1v1h-1zM377 429h1v1h-1zM378 430h1v1h-1zM378 428h1v1h-1zM379 431h1v1h-1zM379 427h1v1h-1zM380 432h1v1h-1zM380 426h1v1h-1zM384 426h1v1h-1zM384 432h1v1h-1zM385 427h1v1h-1zM385 431h1v1h-1zM386 428h1v1h-1zM386 430h1v1h-1zM387 429h1v1h-1zM388 430h1v1h-1zM388 428h1v1h-1zM389 431h1v1h-1zM389 427h1v1h-1zM390 432h1v1h-1zM390 426h1v1h-1zM393 426h1v1h-1zM393 432h1v1h-1zM394 427h1v1h-1zM394 431h1v1h-1zM395 428h1v1h-1zM395 430h1v1h-1zM396 429h1v1h-1zM397 430h1v1h-1zM397 428h1v1h-1zM398 431h1v1h-1zM398 427h1v1h-1zM399 432h1v1h-1zM399 426h1v1h-1zM403 426h1v1h-1zM403 432h1v1h-1zM404 427h1v1h-1zM404 431h1v1h-1zM405 428h1v1h-1zM405 430h1v1h-1zM406 429h1v1h-1zM407 430h1v1h-1zM407 428h1v1h-1zM408 431h1v1h-1zM408 427h1v1h-1zM409 432h1v1h-1zM409 426h1v1h-1zM412 425h1v1h-1zM412 431h1v1h-1zM413 426h1v1h-1zM413 430h1v1h-1zM414 427h1v1h-1zM414 429h1v1h-1zM415 428h1v1h-1zM416 429h1v1h-1zM416 427h1v1h-1zM417 430h1v1h-1zM417 426h1v1h-1zM418 431h1v1h-1zM418 425h1v1h-1zM421 426h1v1h-1zM421 432h1v1h-1zM422 427h1v1h-1zM422 431h1v1h-1zM423 428h1v1h-1zM423 430h1v1h-1zM424 429h1v1h-1zM425 430h1v1h-1zM425 428h1v1h-1zM426 431h1v1h-1zM426 427h1v1h-1zM427 432h1v1h-1zM427 426h1v1h-1zM431 426h1v1h-1zM431 432h1v1h-1zM432 427h1v1h-1zM432 431h1v1h-1zM433 428h1v1h-1zM433 430h1v1h-1zM434 429h1v1h-1zM435 430h1v1h-1zM435 428h1v1h-1zM436 431h1v1h-1zM436 427h1v1h-1zM437 432h1v1h-1zM437 426h1v1h-1zM440 426h1v1h-1zM440 432h1v1h-1zM441 427h1v1h-1zM441 431h1v1h-1zM442 428h1v1h-1zM442 430h1v1h-1zM443 429h1v1h-1zM444 430h1v1h-1zM444 428h1v1h-1zM445 431h1v1h-1zM445 427h1v1h-1zM446 432h1v1h-1zM446 426h1v1h-1zM450 426h1v1h-1zM450 432h1v1h-1zM451 427h1v1h-1zM451 431h1v1h-1zM452 428h1v1h-1zM452 430h1v1h-1zM453 429h1v1h-1zM454 430h1v1h-1zM454 428h1v1h-1zM455 431h1v1h-1zM455 427h1v1h-1zM456 432h1v1h-1zM456 426h1v1h-1zM459 426h1v1h-1zM459 432h1v1h-1zM460 427h1v1h-1zM460 431h1v1h-1zM461 428h1v1h-1zM461 430h1v1h-1zM462 429h1v1h-1zM463 430h1v1h-1zM463 428h1v1h-1zM464 431h1v1h-1zM464 427h1v1h-1zM465 432h1v1h-1zM465 426h1v1h-1zM468 426h1v1h-1zM468 432h1v1h-1zM469 427h1v1h-1zM469 431h1v1h-1zM470 428h1v1h-1zM470 430h1v1h-1zM471 429h1v1h-1zM472 430h1v1h-1zM472 428h1v1h-1zM473 431h1v1h-1zM473 427h1v1h-1zM474 432h1v1h-1zM474 426h1v1h-1zM478 426h1v1h-1zM478 432h1v1h-1zM479 427h1v1h-1zM479 431h1v1h-1zM480 428h1v1h-1zM480 430h1v1h-1zM481 429h1v1h-1zM482 430h1v1h-1zM482 428h1v1h-1zM483 431h1v1h-1zM483 427h1v1h-1zM484 432h1v1h-1zM484 426h1v1h-1zM487 426h1v1h-1zM487 432h1v1h-1zM488 427h1v1h-1zM488 431h1v1h-1zM489 428h1v1h-1zM489 430h1v1h-1zM490 429h1v1h-1zM491 430h1v1h-1zM491 428h1v1h-1zM492 431h1v1h-1zM492 427h1v1h-1zM493 432h1v1h-1zM493 426h1v1h-1zM497 425h1v1h-1zM497 431h1v1h-1zM498 426h1v1h-1zM498 430h1v1h-1zM499 427h1v1h-1zM499 429h1v1h-1zM500 428h1v1h-1zM501 429h1v1h-1zM501 427h1v1h-1zM502 430h1v1h-1zM502 426h1v1h-1zM503 431h1v1h-1zM503 425h1v1h-1zM506 426h1v1h-1zM506 432h1v1h-1zM507 427h1v1h-1zM507 431h1v1h-1zM508 428h1v1h-1zM508 430h1v1h-1zM509 429h1v1h-1zM510 430h1v1h-1zM510 428h1v1h-1zM511 431h1v1h-1zM511 427h1v1h-1zM512 432h1v1h-1zM512 426h1v1h-1zM515 400h1v1h-1zM515 406h1v1h-1zM516 401h1v1h-1zM516 405h1v1h-1zM517 402h1v1h-1zM517 404h1v1h-1zM518 403h1v1h-1zM519 404h1v1h-1zM519 402h1v1h-1zM520 405h1v1h-1zM520 401h1v1h-1zM521 406h1v1h-1zM521 400h1v1h-1zM525 396h1v1h-1zM525 402h1v1h-1zM526 397h1v1h-1zM526 401h1v1h-1zM527 398h1v1h-1zM527 400h1v1h-1zM528 399h1v1h-1zM529 400h1v1h-1zM529 398h1v1h-1zM530 401h1v1h-1zM530 397h1v1h-1zM531 402h1v1h-1zM531 396h1v1h-1zM534 396h1v1h-1zM534 402h1v1h-1zM535 397h1v1h-1zM535 401h1v1h-1zM536 398h1v1h-1zM536 400h1v1h-1zM537 399h1v1h-1zM538 400h1v1h-1zM538 398h1v1h-1zM539 401h1v1h-1zM539 397h1v1h-1zM540 402h1v1h-1zM540 396h1v1h-1zM544 396h1v1h-1zM544 402h1v1h-1zM545 397h1v1h-1zM545 401h1v1h-1zM546 398h1v1h-1zM546 400h1v1h-1zM547 399h1v1h-1zM548 400h1v1h-1zM548 398h1v1h-1zM549 401h1v1h-1zM549 397h1v1h-1zM550 402h1v1h-1zM550 396h1v1h-1zM553 396h1v1h-1zM553 402h1v1h-1zM554 397h1v1h-1zM554 401h1v1h-1zM555 398h1v1h-1zM555 400h1v1h-1zM556 399h1v1h-1zM557 400h1v1h-1zM557 398h1v1h-1zM558 401h1v1h-1zM558 397h1v1h-1zM559 402h1v1h-1zM559 396h1v1h-1zM562 396h1v1h-1zM562 402h1v1h-1zM563 397h1v1h-1zM563 401h1v1h-1zM564 398h1v1h-1zM564 400h1v1h-1zM565 399h1v1h-1zM566 400h1v1h-1zM566 398h1v1h-1zM567 401h1v1h-1zM567 397h1v1h-1zM568 402h1v1h-1zM568 396h1v1h-1zM572 396h1v1h-1zM572 402h1v1h-1zM573 397h1v1h-1zM573 401h1v1h-1zM574 398h1v1h-1zM574 400h1v1h-1zM575 399h1v1h-1zM576 400h1v1h-1zM576 398h1v1h-1zM577 401h1v1h-1zM577 397h1v1h-1zM578 402h1v1h-1zM578 396h1v1h-1zM585 273h1v1h-1zM585 279h1v1h-1zM586 274h1v1h-1zM586 278h1v1h-1zM587 275h1v1h-1zM587 277h1v1h-1zM588 276h1v1h-1zM589 277h1v1h-1zM589 275h1v1h-1zM590 278h1v1h-1zM590 274h1v1h-1zM591 279h1v1h-1zM591 273h1v1h-1z" fill="#00c000"/>
<text class="m" x="338" y="475" textLength="315" lengthAdjust="spacingAndGlyphs">rel seconds : UT date 2025-11-11T00:30:12.000</text>
</svg></body></html>
